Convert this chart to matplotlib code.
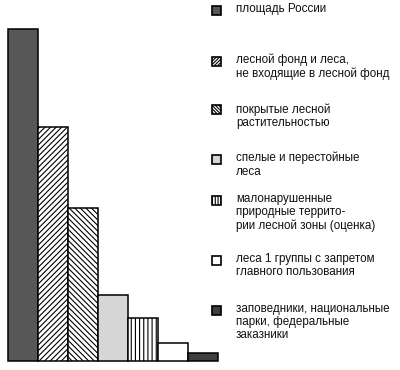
import matplotlib
matplotlib.use('Agg')
import matplotlib.pyplot as plt
from matplotlib.patches import Rectangle

plt.rcParams['font.family'] = ['Liberation Sans', 'DejaVu Sans']
plt.rcParams['hatch.linewidth'] = 0.8

# площади, млн га (оценка по рисунку)
values = [1709, 1205, 788, 340, 221, 93, 41]
labels = [
    'площадь России',
    'лесной фонд и леса,\nне входящие в лесной фонд',
    'покрытые лесной\nрастительностью',
    'спелые и перестойные\nлеса',
    'малонарушенные\nприродные террито-\nрии лесной зоны (оценка)',
    'леса 1 группы с запретом\nглавного пользования',
    'заповедники, национальные\nпарки, федеральные\nзаказники',
]

faces = ['#575757', 'white', 'white', '#d6d6d6', 'white', 'white', '#3f3f3f']
hatches = [None, '//////', '\\\\\\\\\\\\', None, '||||', None, None]
marker_hatches = [None, '//////////', '\\\\\\\\\\\\\\\\\\\\', None, '||||||', None, None]

W, H = 400, 370
fig = plt.figure(figsize=(W / 100, H / 100), dpi=100)

# область столбцов: x 8..218 px, основание на 361 px, максимум на 29 px
ax = fig.add_axes([8 / W, (H - 361) / H, 210 / W, 332 / H])
x = list(range(len(values)))
ax.bar(x, values, width=1.0, color=faces, edgecolor='black',
       linewidth=1.1, hatch=hatches, align='edge')
ax.set_xlim(0, len(values))
ax.set_ylim(0, max(values))
ax.axis('off')
for p in ax.patches:
    p.set_clip_on(False)

# легенда
marker_y = [10, 61, 110, 159, 200, 260, 310]
for lab, fc, h, my in zip(labels, faces, marker_hatches, marker_y):
    r = Rectangle((212 / W, (H - my - 4.5) / H), 9 / W, 9 / H,
                  transform=fig.transFigure, facecolor=fc, edgecolor='black',
                  linewidth=1.2, hatch=h)
    fig.patches.append(r)
    fig.text(236 / W, (H - my + 7) / H, lab, fontsize=8.4, va='top',
             ha='left', linespacing=1.12, color='#111111')

fig.savefig('out.png', dpi=100, facecolor='white')
